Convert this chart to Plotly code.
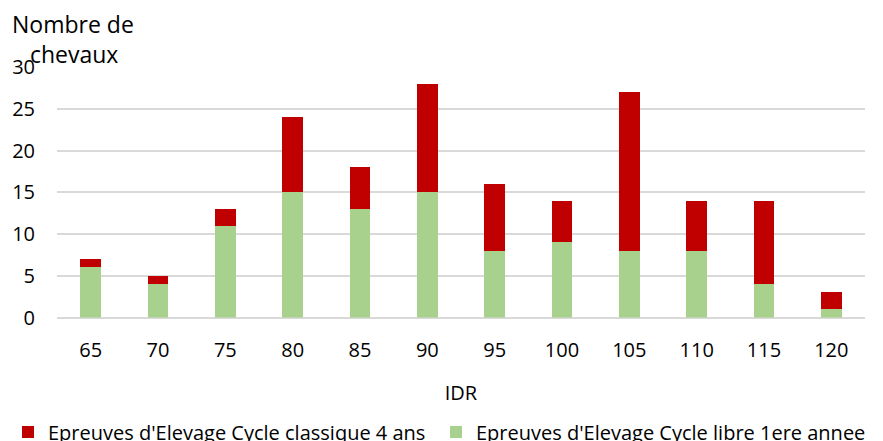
import plotly.graph_objects as go

categories = ["65", "70", "75", "80", "85", "90", "95", "100", "105", "110", "115", "120"]
libre_1ere_annee = [6, 4, 11, 15, 13, 15, 8, 9, 8, 8, 4, 1]
classique_4_ans = [1, 1, 2, 9, 5, 13, 8, 5, 19, 6, 10, 2]
y_ticks = [0, 5, 10, 15, 20, 25, 30]

tick_font = dict(family="Open Sans, Noto Sans, sans-serif", size=20, color="#000000")
legend_font = dict(family="Open Sans, Noto Sans, sans-serif", size=20, color="#000000")

# page body has an 8px offset; positions below are in figure pixels
W, H = 883, 441
L, R, T, B = 49, 26, 59, 128
pw, ph = W - L - R, H - T - B

fig = go.Figure()
fig.add_trace(go.Bar(x=categories, y=libre_1ere_annee, name="Epreuves d'Elevage Cycle libre 1ere annee",
                     marker=dict(color="#A9D18E", line=dict(width=0)), legend="legend2"))
fig.add_trace(go.Bar(x=categories, y=classique_4_ans, name="Epreuves d'Elevage Cycle classique 4 ans",
                     marker=dict(color="#C00000", line=dict(width=0)), legend="legend"))

legend_common = dict(orientation="h", xref="container", yref="container", y=1 - 424 / H,
                     xanchor="left", yanchor="middle", font=legend_font, itemwidth=30,
                     bgcolor="rgba(0,0,0,0)")

fig.update_layout(
    barmode="stack",
    bargap=0.69,
    width=W, height=H,
    margin=dict(l=L, r=R, t=T, b=B),
    plot_bgcolor="white", paper_bgcolor="white",
    showlegend=True,
    legend=dict(x=0, **legend_common),
    legend2=dict(x=428 / W, **legend_common),
    xaxis=dict(type="category", showgrid=False, showline=False, ticks="", tickfont=tick_font,
               ticklabelstandoff=18, automargin=True,
               title=dict(text="IDR", font=tick_font, standoff=24)),
    yaxis=dict(range=[0, 30], tickvals=y_ticks, showgrid=True, gridcolor="#D9D9D9", gridwidth=1.5,
               zeroline=True, zerolinecolor="#D9D9D9", zerolinewidth=1.5, automargin=False,
               showline=False, ticks="", tickfont=tick_font, ticklabelstandoff=21),
    annotations=[dict(text="Nombre de<br>\u00a0\u00a0\u00a0chevaux", xref="paper", yref="paper",
                      x=(2 - L) / pw, y=(H - B + 3) / ph,
                      xanchor="left", yanchor="top", align="left", showarrow=False,
                      font=dict(family="Open Sans, Noto Sans, sans-serif", size=23, color="#000000"))],
)

fig.write_html("out.html")
